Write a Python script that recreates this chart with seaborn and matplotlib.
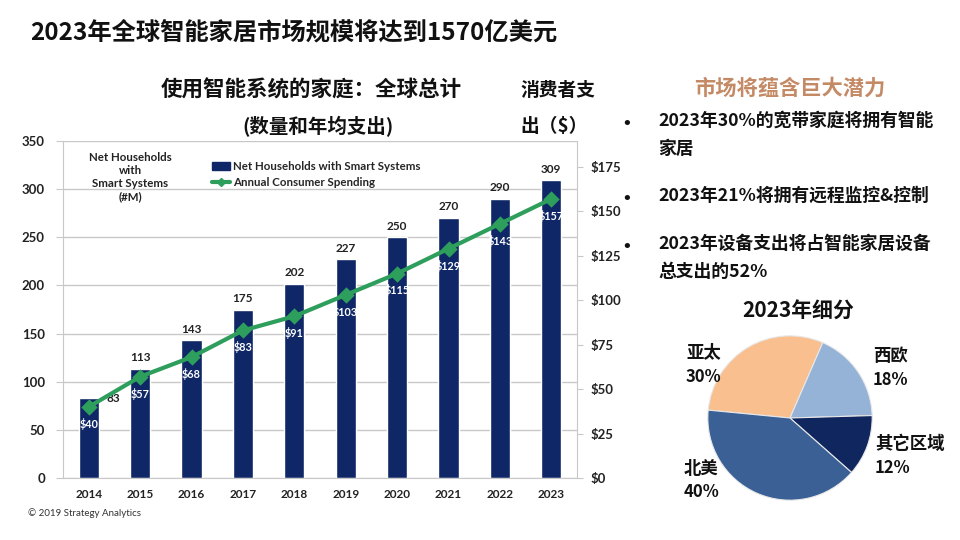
import matplotlib
matplotlib.use("Agg")
import matplotlib.pyplot as plt
import seaborn as sns
import numpy as np
import pandas as pd
from matplotlib.patches import Patch
from matplotlib.lines import Line2D

# ---------------- data ----------------
years = ["2014", "2015", "2016", "2017", "2018", "2019", "2020", "2021", "2022", "2023"]
households = [83, 113, 143, 175, 202, 227, 250, 270, 290, 309]
spending = [40, 57, 68, 83, 91, 103, 115, 129, 143, 157]
left_ticks = [0, 50, 100, 150, 200, 250, 300, 350]
right_ticks = [0, 25, 50, 75, 100, 125, 150, 175]

pie_labels = ["亚太", "西欧", "其它区域", "北美"]
pie_values = [30, 18, 12, 40]

bullets = ["2023年30%的宽带家庭将拥有智能\n家居",
           "2023年21%将拥有远程监控&控制",
           "2023年设备支出将占智能家居设备\n总支出的52%"]

# ---------------- style ----------------
sns.set_style("white")
CJK = ["Noto Sans CJK SC", "DejaVu Sans"]
LAT = ["Lato", "Noto Sans CJK SC", "DejaVu Sans"]
plt.rcParams["font.family"] = CJK

NAVY = "#0f2766"
GREEN = "#2e9e5c"
GRID = "#c8c8c8"

W, H = 960, 540
fig = plt.figure(figsize=(9.6, 5.4), dpi=100)
fig.patch.set_facecolor("white")

def fx(x):
    return x / W

def fy(y):
    return 1 - y / H

# ---------------- main chart ----------------
ax = fig.add_axes([fx(63), fy(478), fx(577) - fx(63), fy(141) - fy(478)])
df = pd.DataFrame({"year": years, "households": households, "spending": spending})
sns.barplot(data=df, x="year", y="households", ax=ax, color=NAVY, width=0.39,
            saturation=1, zorder=2)
ax.set_ylim(0, 350)
ax.set_xlim(-0.5, 9.5)
ax.set_yticks(left_ticks)
ax.set_yticklabels([str(t) for t in left_ticks], fontfamily=LAT, fontweight="bold",
                   fontsize=9.5, color="#222222")
ax.set_xticks(range(len(years)))
ax.set_xticklabels(years, fontfamily=LAT, fontweight="bold", fontsize=8.5, color="#222222")
ax.set_xlabel("")
ax.set_ylabel("")
ax.yaxis.grid(True, color=GRID, linewidth=1, zorder=0)
ax.set_axisbelow(True)
ax.tick_params(axis="y", length=5, color=GRID, pad=8)
ax.tick_params(axis="x", which="major", length=0, pad=8)
ax.set_xticks(np.arange(-0.5, 10, 1), minor=True)
ax.tick_params(axis="x", which="minor", length=4, color=GRID)
for s in ["top", "right"]:
    ax.spines[s].set_visible(False)
for s in ["left", "bottom"]:
    ax.spines[s].set_color(GRID)

ax2 = ax.twinx()
sns.pointplot(data=df, x="year", y="spending", ax=ax2, color=GREEN, markers="D",
              errorbar=None, markersize=6, linewidth=3)
ax2.set_xlim(-0.5, 9.5)
ax2.set_ylim(0, 189.6)
ax2.set_yticks(right_ticks)
ax2.set_yticklabels(["$" + str(t) for t in right_ticks], fontfamily=LAT,
                    fontweight="bold", fontsize=9.5, color="#222222")
ax2.set_ylabel("")
ax2.set_xlabel("")
ax2.tick_params(axis="y", length=4, color=GRID, pad=6)
for s in ["top", "left", "bottom"]:
    ax2.spines[s].set_visible(False)
ax2.spines["right"].set_color(GRID)

# data labels
for i, (h, sp) in enumerate(zip(households, spending)):
    if i == 0:
        ax.text(i + 0.35, h, str(h), ha="left", va="center", fontsize=8.5,
                fontfamily=LAT, fontweight="bold", color="#222222", zorder=5)
    else:
        ax.text(i, h + 6, str(h), ha="center", va="bottom", fontsize=8.5,
                fontfamily=LAT, fontweight="bold", color="#222222", zorder=5)
    ax2.text(i, sp - 9.5, "$" + str(sp), ha="center", va="center", fontsize=7.8,
             fontfamily=LAT, fontweight="bold", color="white", zorder=5)

# inner label
fig.text(fx(130), fy(177), "Net Households\nwith\nSmart Systems\n(#M)", ha="center",
         va="center", fontsize=8.3, fontfamily=LAT, fontweight="bold",
         color="#222222", linespacing=1.2)

# legend
handles = [Patch(facecolor=NAVY, edgecolor=NAVY),
           Line2D([0], [0], color=GREEN, marker="D", markersize=4, linewidth=3)]
fig.legend(handles, ["Net Households with Smart Systems", "Annual Consumer Spending"],
           loc="upper left", bbox_to_anchor=(fx(212), fy(161)), frameon=False,
           prop={"family": LAT, "weight": "bold", "size": 8.3},
           handlelength=1.6, handletextpad=0.2, labelspacing=0.45, borderaxespad=0,
           borderpad=0)

# titles
fig.text(fx(30), fy(32), "2023年全球智能家居市场规模将达到1570亿美元", ha="left",
         va="center", fontsize=17.5, fontweight="bold", color="#111111")
fig.text(fx(311), fy(90), "使用智能系统的家庭：全球总计", ha="center", va="center",
         fontsize=15.5, fontweight="bold", color="#111111")
fig.text(fx(318), fy(127), "(数量和年均支出)", ha="center", va="center",
         fontsize=14, fontweight="bold", color="#111111")
fig.text(fx(520), fy(90), "消费者支", ha="left", va="center", fontsize=13.5,
         fontweight="bold", color="#111111")
fig.text(fx(520), fy(127), "出（$）", ha="left", va="center", fontsize=13.5,
         fontweight="bold", color="#111111")
fig.text(fx(28), fy(513), "© 2019 Strategy Analytics", ha="left", va="center",
         fontsize=7, fontfamily=LAT, color="#333333")

# right text block
fig.text(fx(790), fy(88), "市场将蕴含巨大潜力", ha="center", va="center",
         fontsize=15.3, fontweight="bold", color="#c48a66")
bullet_y = [124, 199, 247]
for y, t in zip(bullet_y, bullets):
    fig.text(fx(627), fy(y), "•", ha="center", va="center", fontsize=13,
             fontfamily=["DejaVu Sans"], color="#111111")
    fig.text(fx(658), fy(y - 12), t, ha="left", va="top", fontsize=12.8,
             fontweight="bold", color="#111111", linespacing=1.7)

# pie
fig.text(fx(798), fy(311), "2023年细分", ha="center", va="center", fontsize=15,
         fontweight="bold", color="#111111")
pax = fig.add_axes([fx(707), fy(501), fx(873) - fx(707), fy(335) - fy(501)])
pie_colors = ["#f9bf8f", "#95b3d7", "#10265e", "#3b6096"]
pax.pie(pie_values, colors=pie_colors, startangle=174.5, counterclock=False,
        wedgeprops={"linewidth": 0.8, "edgecolor": "#e8e8e8"})
pax.set_aspect("equal")
pax.set_xlim(-1.01, 1.01)
pax.set_ylim(-1.01, 1.01)
pax.axis("off")

label_pos = [(686, 352, 377), (873, 356, 380), (875, 444, 468), (684, 469, 492)]
for (x, y1, y2), lab, v in zip(label_pos, pie_labels, pie_values):
    fig.text(fx(x), fy(y1), lab, ha="left", va="center", fontsize=12.5,
             fontweight="bold", color="#111111")
    fig.text(fx(x), fy(y2), f"{v}%", ha="left", va="center", fontsize=12,
             fontweight="bold", color="#111111")

fig.savefig("out.png", dpi=100, facecolor="white")
